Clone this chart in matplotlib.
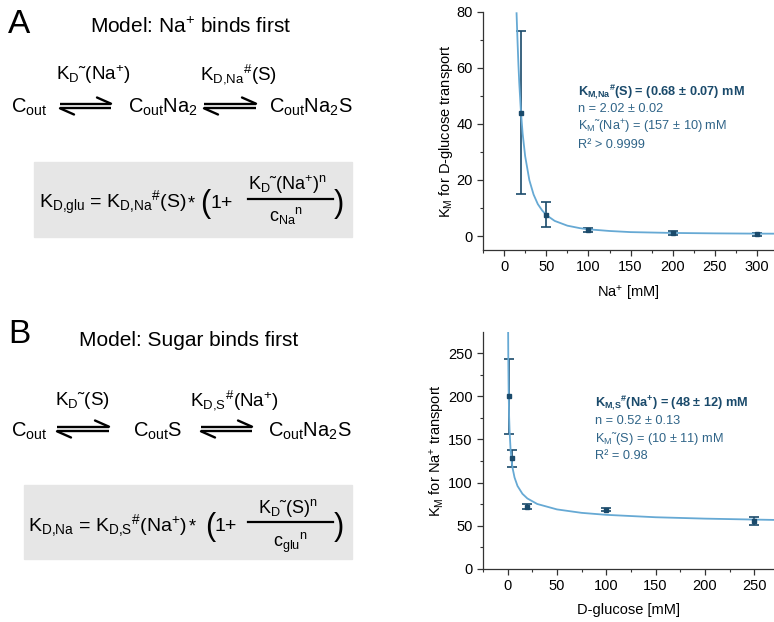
import numpy as np
import matplotlib
matplotlib.use("Agg")
import matplotlib.pyplot as plt
from matplotlib.patches import Rectangle

plt.rcParams['font.family'] = ['Liberation Sans', 'DejaVu Sans']
plt.rcParams['mathtext.fontset'] = 'custom'
plt.rcParams['mathtext.rm'] = 'Liberation Sans'
plt.rcParams['mathtext.it'] = 'Liberation Sans:italic'
plt.rcParams['mathtext.bf'] = 'Liberation Sans:bold'
plt.rcParams['mathtext.default'] = 'regular'

# panel A data: K_M for D-glucose transport vs Na+
na_conc = [20, 50, 100, 200, 300]
km_glu = [44, 7.6, 2.2, 1.1, 0.6]
km_glu_err = [29, 4.5, 0.6, 0.6, 0.5]
# fitted curve
fit_a_x = [14.8, 16, 17, 18, 20, 22, 25, 30, 35, 40, 45, 50, 60, 75, 90, 100,
           125, 150, 200, 250, 300, 320]
fit_a_y = [79.5, 69.2, 61.3, 54.7, 44.3, 36.6, 28.5, 19.9, 14.8, 11.4, 9.2, 7.5,
           5.4, 3.7, 2.8, 2.4, 1.8, 1.4, 1.1, 0.95, 0.86, 0.84]

# panel B data: K_M for Na+ transport vs D-glucose
glu_conc = [1, 4, 20, 100, 250]
km_na = [200, 128.3, 72, 68.5, 55.5]
km_na_err = [43.5, 10, 3, 2, 5]
fit_b_x = [0.5, 0.7, 1, 1.5, 2, 3, 4, 5, 7, 10, 15, 20, 30, 50, 75, 100, 150,
           200, 250, 270]
fit_b_y = [276, 239, 207, 176.7, 158.8, 137.8, 125.5, 116.8, 105.8, 96, 86.9,
           81.5, 75.1, 68.8, 64.8, 62.5, 59.7, 58.1, 57.0, 56.6]

TIL = '\u02dc'
ann_a = ["n = 2.02 ± 0.02", "K$_M$" + TIL + "(Na$^{+}$) = (157 ± 10) mM", "R² > 0.9999"]
ann_b = ["n = 0.52 ± 0.13", "K$_M$" + TIL + "(S) = (10 ± 11) mM", "R² = 0.98"]

curve_c = '#66a9d4'
mark_c = '#1a4a6b'
text_c = '#2f6488'

W, H = 774, 622
fig = plt.figure(figsize=(W / 100, H / 100), dpi=100)

# overlay for the schematic, pixel coordinates
ov = fig.add_axes([0, 0, 1, 1])
ov.set_xlim(0, W)
ov.set_ylim(H, 0)
ov.axis('off')


def put(x, y, s, size=14.5, **kw):
    ov.text(x, y, s, fontsize=size, ha='left', va='baseline', color='black', **kw)


def harpoon(x0, x1, y):
    lw = 1.7
    ov.plot([x0, x1], [y - 2.3, y - 2.3], color='black', lw=lw, solid_capstyle='butt')
    ov.plot([x1, x1 - 14], [y - 2.3, y - 8.5], color='black', lw=lw, solid_capstyle='round')
    ov.plot([x0, x1], [y + 2.3, y + 2.3], color='black', lw=lw, solid_capstyle='butt')
    ov.plot([x0, x0 + 14], [y + 2.3, y + 8.5], color='black', lw=lw, solid_capstyle='round')


# ---- panel A schematic
put(8, 33, 'A', size=24)
put(90, 33, 'Model: Na$^{+}$ binds first', size=15)
put(56, 80, 'K$_D$' + TIL + '(Na$^{+}$)', size=13.5)
put(200, 80, 'K$_{D{,}Na}{}^{\\#}$(S)', size=13.5)
put(11, 113, 'C$_{out}$')
put(128, 113, 'C$_{out}$Na$_2$')
put(269, 113, 'C$_{out}$Na$_2$S')
harpoon(60, 111, 106)
harpoon(204, 256, 106)

ov.add_patch(Rectangle((34, 162), 318, 75, color='#e6e6e6', zorder=0))
put(39, 208, 'K$_{D{,}glu}$ = K$_{D{,}Na}{}^{\\#}$(S)', size=14)
put(188, 208, '*', size=13)
put(200, 212, '(', size=22)
put(211, 208, '1+', size=14)
ov.plot([248, 333], [199, 199], color='black', lw=1.6)
put(248, 190, 'K$_D$' + TIL + '(Na$^{+}$)$^n$', size=13)
put(269, 221, 'c$_{Na}{}^{n}$', size=13)
put(334, 212, ')', size=22)

# ---- panel B schematic
put(8, 343, 'B', size=24)
put(79, 346, 'Model: Sugar binds first', size=15)
put(55, 405, 'K$_D$' + TIL + '(S)', size=13.5)
put(190, 405, 'K$_{D{,}S}{}^{\\#}$(Na$^{+}$)', size=13.5)
put(11, 437, 'C$_{out}$')
put(133, 437, 'C$_{out}$S')
put(268, 437, 'C$_{out}$Na$_2$S')
harpoon(57, 109, 429)
harpoon(201, 252, 429)

ov.add_patch(Rectangle((24, 485), 328, 74, color='#e6e6e6', zorder=0))
put(28, 531, 'K$_{D{,}Na}$ = K$_{D{,}S}{}^{\\#}$(Na$^{+}$)', size=14)
put(189, 531, '*', size=13)
put(205, 535, '(', size=22)
put(215, 531, '1+', size=14)
ov.plot([248, 333], [522, 522], color='black', lw=1.6)
put(258, 513, 'K$_D$' + TIL + '(S)$^n$', size=13)
put(273, 547, 'c$_{glu}{}^{n}$', size=13)
put(334, 535, ')', size=22)


# ---- data panels
def style(ax):
    for s in ['top', 'right']:
        ax.spines[s].set_visible(False)
    for s in ['left', 'bottom']:
        ax.spines[s].set_color('#333333')
        ax.spines[s].set_linewidth(0.9)
    ax.tick_params(which='major', direction='out', length=4, width=0.9,
                   labelsize=10.5, color='#333333')
    ax.tick_params(which='minor', direction='out', length=2.5, width=0.8,
                   color='#333333')
    ax.patch.set_alpha(0)


axA = fig.add_axes([0.624, 0.598, 0.376, 0.383])
style(axA)
axA.errorbar(na_conc, km_glu, yerr=km_glu_err, fmt='none', ecolor=mark_c,
             elinewidth=1.2, capsize=3.5, capthick=1.2, zorder=2)
axA.plot(fit_a_x, fit_a_y, color=curve_c, lw=1.3, zorder=3)
axA.plot(na_conc, km_glu, 's', color=mark_c, ms=3.5, zorder=4)
axA.set_xlim(-25, 320)
axA.set_ylim(-5, 80)
axA.set_xticks([0, 50, 100, 150, 200, 250, 300])
axA.set_xticks(np.arange(-25, 320, 25), minor=True)
axA.set_yticks([0, 20, 40, 60, 80])
axA.set_yticks([10, 30, 50, 70], minor=True)
axA.set_xlabel('Na$^{+}$ [mM]', fontsize=10.5, labelpad=7)
axA.set_ylabel('K$_{M}$ for D-glucose transport', fontsize=10.5, labelpad=1)
axA.text(0.326, 0.648, 'K$_{\\mathbf{M{,}Na}}{}^{\\#}$(S) = (0.68 ± 0.07) mM',
         transform=axA.transAxes, fontsize=9.2, fontweight='bold', color=mark_c,
         va='baseline')
for i, line in enumerate(ann_a):
    axA.text(0.326, [0.581, 0.504, 0.430][i], line, transform=axA.transAxes,
             fontsize=9.2, color=text_c, va='baseline')

axB = fig.add_axes([0.624, 0.0857, 0.376, 0.381])
style(axB)
axB.errorbar(glu_conc, km_na, yerr=km_na_err, fmt='none', ecolor=mark_c,
             elinewidth=1.2, capsize=3.5, capthick=1.2, zorder=2)
axB.plot(fit_b_x, fit_b_y, color=curve_c, lw=1.3, zorder=3)
axB.plot(glu_conc, km_na, 's', color=mark_c, ms=3.5, zorder=4)
axB.set_xlim(-25, 270)
axB.set_ylim(0, 275)
axB.set_xticks([0, 50, 100, 150, 200, 250])
axB.set_xticks(np.arange(-25, 270, 25), minor=True)
axB.set_yticks([0, 50, 100, 150, 200, 250])
axB.set_yticks([25, 75, 125, 175, 225], minor=True)
axB.set_xlabel('D-glucose [mM]', fontsize=10.5, labelpad=7)
axB.set_ylabel('K$_{M}$ for Na$^{+}$ transport', fontsize=10.5, labelpad=1)
axB.text(0.3855, 0.6865, 'K$_{\\mathbf{M{,}S}}{}^{\\#}$(Na$^{+}$) = (48 ± 12) mM',
         transform=axB.transAxes, fontsize=9.2, fontweight='bold', color=mark_c,
         va='baseline')
for i, line in enumerate(ann_b):
    axB.text(0.3855, [0.6105, 0.536, 0.4616][i], line, transform=axB.transAxes,
             fontsize=9.2, color=text_c, va='baseline')

fig.savefig('out.png', dpi=100)
